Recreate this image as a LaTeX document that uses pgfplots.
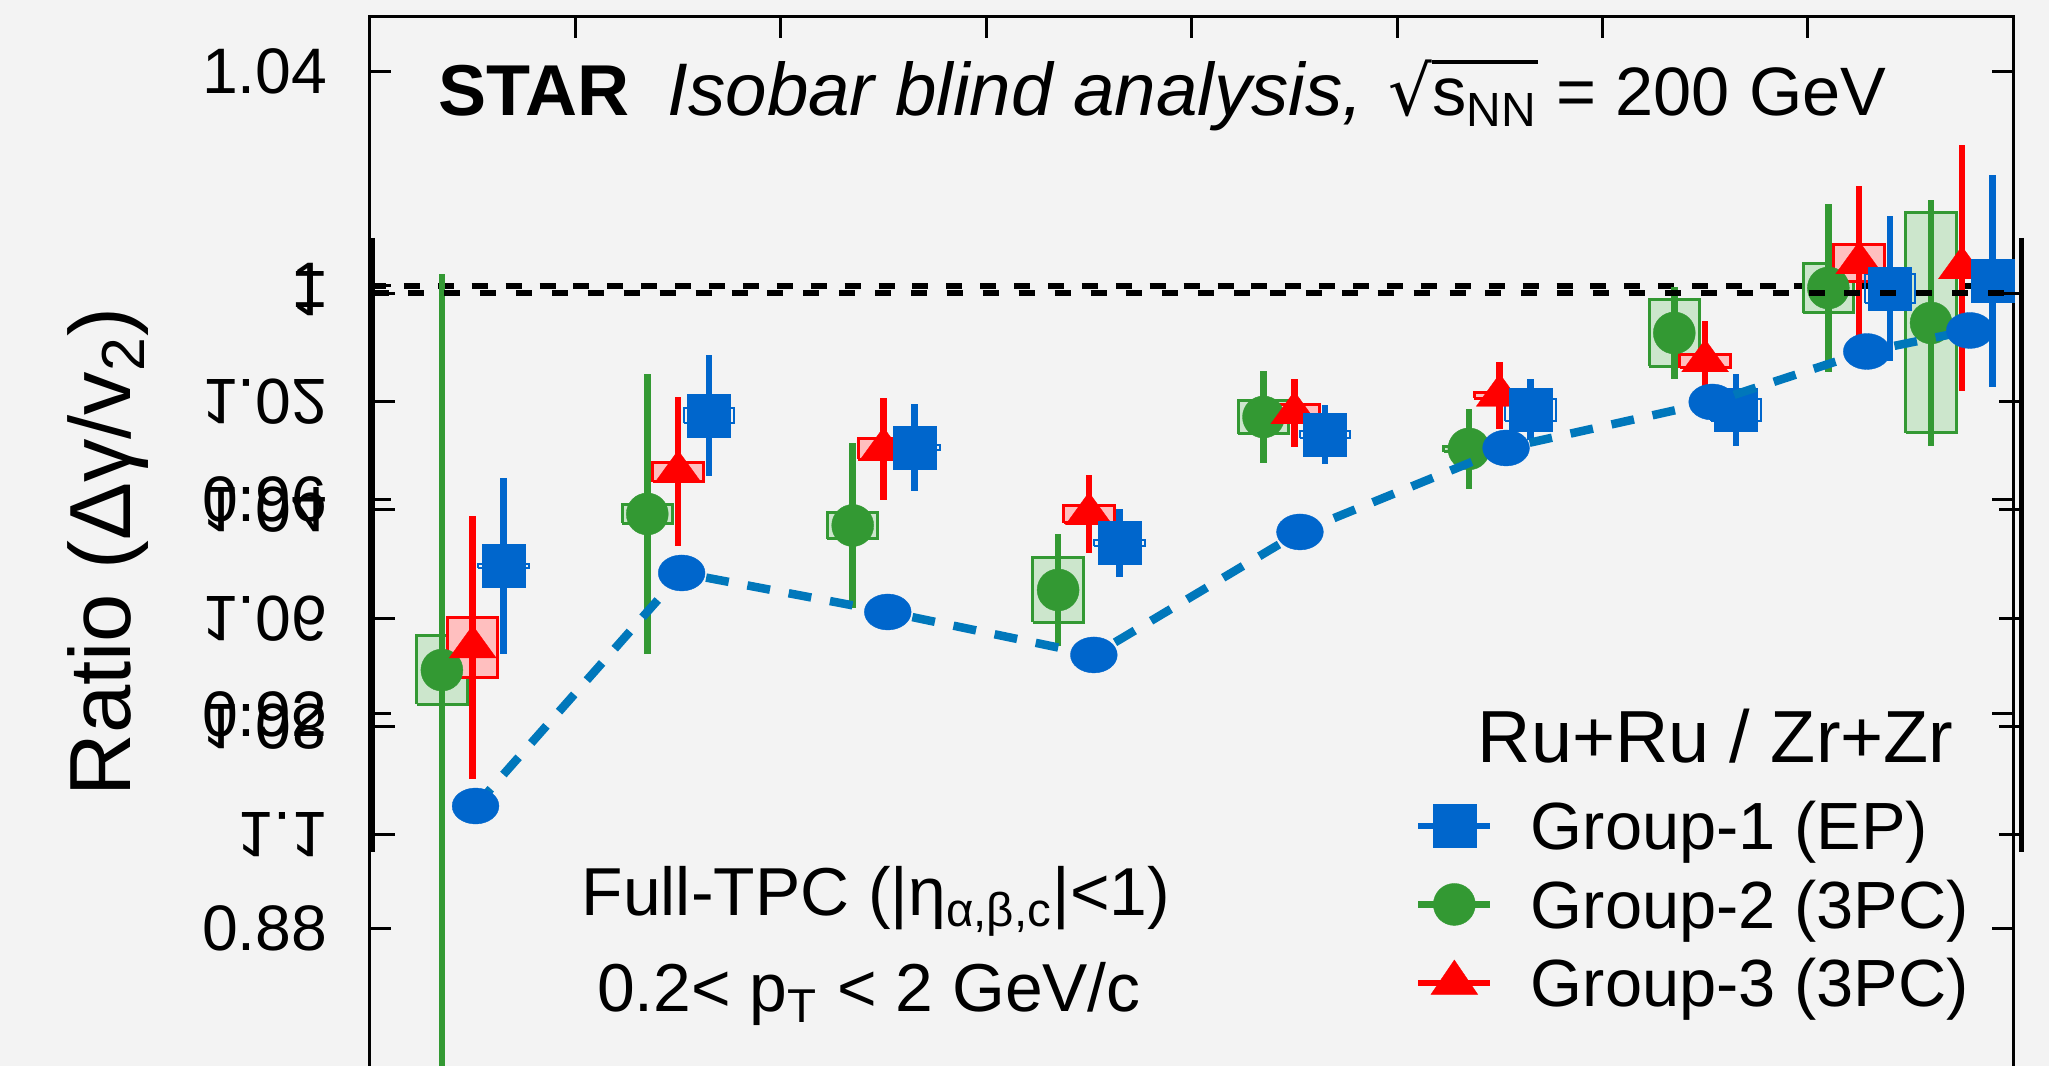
\documentclass[border=0pt]{standalone}
\usepackage{pgfplots}
\pgfplotsset{compat=1.18}
\usepackage{fontspec}
\setmainfont{Liberation Sans}
\newfontfamily\dejavu{DejaVu Sans}
\definecolor{bgc}{RGB}{243,243,243}
\definecolor{cblue}{RGB}{0,102,204}
\definecolor{cgreen}{RGB}{51,153,51}
\definecolor{cred}{RGB}{255,0,0}
\definecolor{cdash}{RGB}{0,119,187}
\definecolor{gfill}{RGB}{204,230,204}
\definecolor{rfill}{RGB}{255,191,191}
\newcommand{\fs}[1]{\fontsize{#1}{#1}\selectfont}

\begin{document}
\begin{tikzpicture}
\path[use as bounding box] (0,0) rectangle (204.9mm,106.6mm);
\clip (0,0) rectangle (204.9mm,106.6mm);
\fill[bgc] (0,0) rectangle (204.9mm,106.6mm);

\begin{axis}[
  at={(37mm,-29.06mm)}, anchor=south west,
  x=2.054mm, y=535.5mm,
  xmin=0, xmax=80, ymin=0.80, ymax=1.0502,
  axis line style={line width=0.3mm},
  xtick={10,20,...,70}, xticklabels={},
  ytick={0.88,0.92,0.96,1,1.04},
  yticklabels={0.88,0.92,0.96,1,1.04},
  tick style={black, line width=0.3mm},
  major tick length=2.1mm,
  yticklabel style={font={\fs{18.3pt}}, inner sep=0pt, xshift=-4.2mm},
  ylabel={Ratio (Δγ/v\textsubscript{2})},
  every axis y label/.style={at={(axis description cs:-0.1455,0.6006)}, rotate=90, anchor=base, font={\fs{24.7pt}}, inner sep=0pt},
  legend cell align=left,
  legend style={draw=none, fill=none, at={(axis description cs:0.636,0.4139)}, anchor=north west,
    inner sep=0pt, outer sep=0pt, row sep=3.07mm, font={\fs{19pt}},
    nodes={inner sep=0pt, text height=4.78mm, text depth=0pt}},
]
% reference line
\addplot[forget plot, black, line width=0.6mm, dash pattern=on 1.6mm off 1.79mm] coordinates {(0,1) (80,1)};

% systematic boxes: green
\addplot[forget plot, draw=cgreen, fill=gfill, line width=0.3mm] table[empty line=jump] {
2.27 0.9218
4.73 0.9218
4.73 0.9346
2.27 0.9346
2.27 0.9218

12.27 0.95565
14.73 0.95565
14.73 0.95905
12.27 0.95905
12.27 0.95565

22.27 0.9527
24.73 0.9527
24.73 0.9577
22.27 0.9577
22.27 0.9527

32.27 0.93709
34.73 0.93709
34.73 0.94923
32.27 0.94923
32.27 0.93709

42.27 0.97236
44.73 0.97236
44.73 0.97856
42.27 0.97856
42.27 0.97236

52.27 0.9690
54.73 0.9690
54.73 0.9700
52.27 0.9700
52.27 0.9690

62.27 0.98489
64.73 0.98489
64.73 0.99741
62.27 0.99741
62.27 0.98489

69.77 0.99495
72.23 0.99495
72.23 1.00415
69.77 1.00415
69.77 0.99495

74.77 0.97248
77.23 0.97248
77.23 1.01356
74.77 1.01356
74.77 0.97248
};
% systematic boxes: red
\addplot[forget plot, draw=cred, fill=rfill, line width=0.3mm] table[empty line=jump] {
3.77 0.9269
6.23 0.9269
6.23 0.9381
3.77 0.9381
3.77 0.9269

13.77 0.96339
16.23 0.96339
16.23 0.96699
13.77 0.96699
13.77 0.96339

23.77 0.96759
26.23 0.96759
26.23 0.97139
23.77 0.97139
23.77 0.96759

33.77 0.95575
36.23 0.95575
36.23 0.95895
33.77 0.95895
33.77 0.95575

43.77 0.97471
46.23 0.97471
46.23 0.97771
43.77 0.97771
43.77 0.97471

53.77 0.97898
56.23 0.97898
56.23 0.97998
53.77 0.97998
53.77 0.97898

63.77 0.98467
66.23 0.98467
66.23 0.98717
63.77 0.98717
63.77 0.98467

71.27 1.00072
73.73 1.00072
73.73 1.00772
71.27 1.00772
71.27 1.00072
};
% systematic boxes: blue
\addplot[forget plot, draw=cblue, line width=0.2mm] table[empty line=jump] {
5.27 0.94724
7.73 0.94724
7.73 0.94804
5.27 0.94804
5.27 0.94724

15.27 0.97425
17.73 0.97425
17.73 0.97705
15.27 0.97705
15.27 0.97425

25.27 0.96937
27.73 0.96937
27.73 0.97017
25.27 0.97017
25.27 0.96937

35.27 0.95133
37.73 0.95133
37.73 0.95253
35.27 0.95253
35.27 0.95133

45.27 0.97149
47.73 0.97149
47.73 0.97289
45.27 0.97289
45.27 0.97149

55.27 0.97477
57.73 0.97477
57.73 0.97877
55.27 0.97877
55.27 0.97477

65.27 0.97477
67.73 0.97477
67.73 0.97877
65.27 0.97877
65.27 0.97477

72.77 0.99667
75.23 0.99667
75.23 1.00207
72.77 1.00207
72.77 0.99667
};

% Group-2 (green)
\addplot[forget plot, cgreen, only marks, mark=*, mark size=2.1mm, mark options={line width=0.1pt},
  error bars/.cd, y dir=both, y explicit, error mark=none, error bar style={line width=0.65mm}]
  table[x=x, y=y, y error=e] {
x y e
3.5 0.9282 0.0740
13.5 0.95735 0.02614
23.5 0.9552 0.0154
33.5 0.94316 0.01046
43.5 0.97546 0.0085
53.5 0.9695 0.0075
63.5 0.99115 0.0086
71.0 0.99955 0.01564
76.0 0.99302 0.0230
};
% Group-3 (red)
\addplot[forget plot, cred, only marks, mark=triangle*, mark size=2.7mm, mark options={yscale=0.8, line width=0.1pt},
  error bars/.cd, y dir=both, y explicit, error mark=none, error bar style={line width=0.65mm}]
  table[x=x, y=y, y error=e] {
x y e
5.0 0.9325 0.02456
15.0 0.96519 0.01391
25.0 0.96949 0.0095
35.0 0.95735 0.0072
45.0 0.97621 0.0063
55.0 0.97948 0.0063
65.0 0.98592 0.0075
72.5 1.00422 0.0143
77.5 1.00329 0.0230
};
% Group-1 (blue)
\addplot[forget plot, cblue, only marks, mark=square*, mark size=2.15mm, mark options={line width=0.1pt},
  error bars/.cd, y dir=both, y explicit, error mark=none, error bar style={line width=0.65mm}]
  table[x=x, y=y, y error=e] {
x y e
6.5 0.94764 0.01643
16.5 0.97565 0.0113
26.5 0.96977 0.0081
36.5 0.95193 0.00626
46.5 0.97219 0.0056
56.5 0.97677 0.0057
66.5 0.97677 0.0068
74.0 0.99937 0.01354
79.0 1.00086 0.0198
};

\addlegendimage{cblue, line width=0.65mm, mark=square*, mark size=2.15mm, mark options={line width=0.1pt},
  legend image code/.code={\draw[mark repeat=2,mark phase=2] plot coordinates {(0mm,0mm) (3.6mm,0mm) (7.2mm,0mm)}; \path[draw=none] (0mm,0mm) -- (11.25mm,0mm);}}
\addlegendentry{Group-1 (EP)}
\addlegendimage{cgreen, line width=0.65mm, mark=*, mark size=2.1mm, mark options={line width=0.1pt},
  legend image code/.code={\draw[mark repeat=2,mark phase=2] plot coordinates {(0mm,0mm) (3.6mm,0mm) (7.2mm,0mm)}; \path[draw=none] (0mm,0mm) -- (11.25mm,0mm);}}
\addlegendentry{Group-2 (3PC)}
\addlegendimage{cred, line width=0.65mm, mark=triangle*, mark size=2.7mm, mark options={yscale=0.85, line width=0.1pt},
  legend image code/.code={\draw[mark repeat=2,mark phase=2] plot coordinates {(0mm,0mm) (3.6mm,0mm) (7.2mm,0mm)}; \path[draw=none] (0mm,0mm) -- (11.25mm,0mm);}}
\addlegendentry{Group-3 (3PC)}
\end{axis}

% second, vertically flipped axis
\begin{axis}[
  at={(119.69mm,52.10mm)}, anchor=center,
  x=2.061mm, y=541.8mm, y dir=reverse,
  xmin=0, xmax=80, ymin=0.98981, ymax=1.10314,
  separate axis lines,
  x axis line style={draw=none},
  y axis line style={line width=0.45mm},
  xtick=\empty,
  ytick={1,1.02,1.04,1.06,1.08,1.1},
  yticklabels={1,1.02,1.04,1.06,1.08,1.1},
  tick style={black, line width=0.3mm},
  major tick length=2.2mm,
  yticklabel style={font={\fs{18.3pt}}, inner sep=0pt, xshift=-4.45mm, yscale=-1},
]
\addplot[black, line width=0.6mm, dash pattern=on 1.6mm off 1.99mm] coordinates {(0,1) (80,1)};
\addplot[cblue, only marks, mark=*, mark size=1.8mm, mark options={xscale=1.3, line width=0.1pt}] table {
5 1.09465
15 1.05164
25 1.05884
35 1.06677
45 1.04407
55 1.02857
65 1.02008
72.5 1.01076
77.5 1.00688
};
\addplot[cdash, line width=0.85mm, dash pattern=on 2.3mm off 1.9mm] table {
5 1.09465
15 1.05164
25 1.05884
35 1.06677
45 1.04407
55 1.02857
65 1.02008
72.5 1.01076
77.5 1.00688
};
\end{axis}

\node[anchor=base west, inner sep=0pt, font={\fs{20.5pt}\bfseries}] at (43.8mm,95.0mm) {STAR};
\node[anchor=base west, inner sep=0pt, font={\fs{21.2pt}\itshape}] at (66.7mm,95.0mm) {Isobar blind analysis,};
\node[anchor=base west, inner sep=0pt, font={\fs{19.5pt}}] at (138.8mm,95.0mm) {{\dejavu √}\vbox{\hrule height 1.3pt\kern 0.22em\hbox{s\textsubscript{NN}}} = 200 GeV};
\node[anchor=base west, inner sep=0pt, font={\fs{21pt}}] at (147.7mm,30.3mm) {Ru+Ru / Zr+Zr};
\node[anchor=base, inner sep=0pt, font={\fs{19.3pt}}] at (87.6mm,15.0mm) {Full-TPC (|η\textsubscript{α,β,c}|<1)};
\node[anchor=base, inner sep=0pt, font={\fs{19.3pt}}] at (86.9mm,5.4mm) {0.2< p\textsubscript{T} < 2 GeV/c};
\end{tikzpicture}
\end{document}
